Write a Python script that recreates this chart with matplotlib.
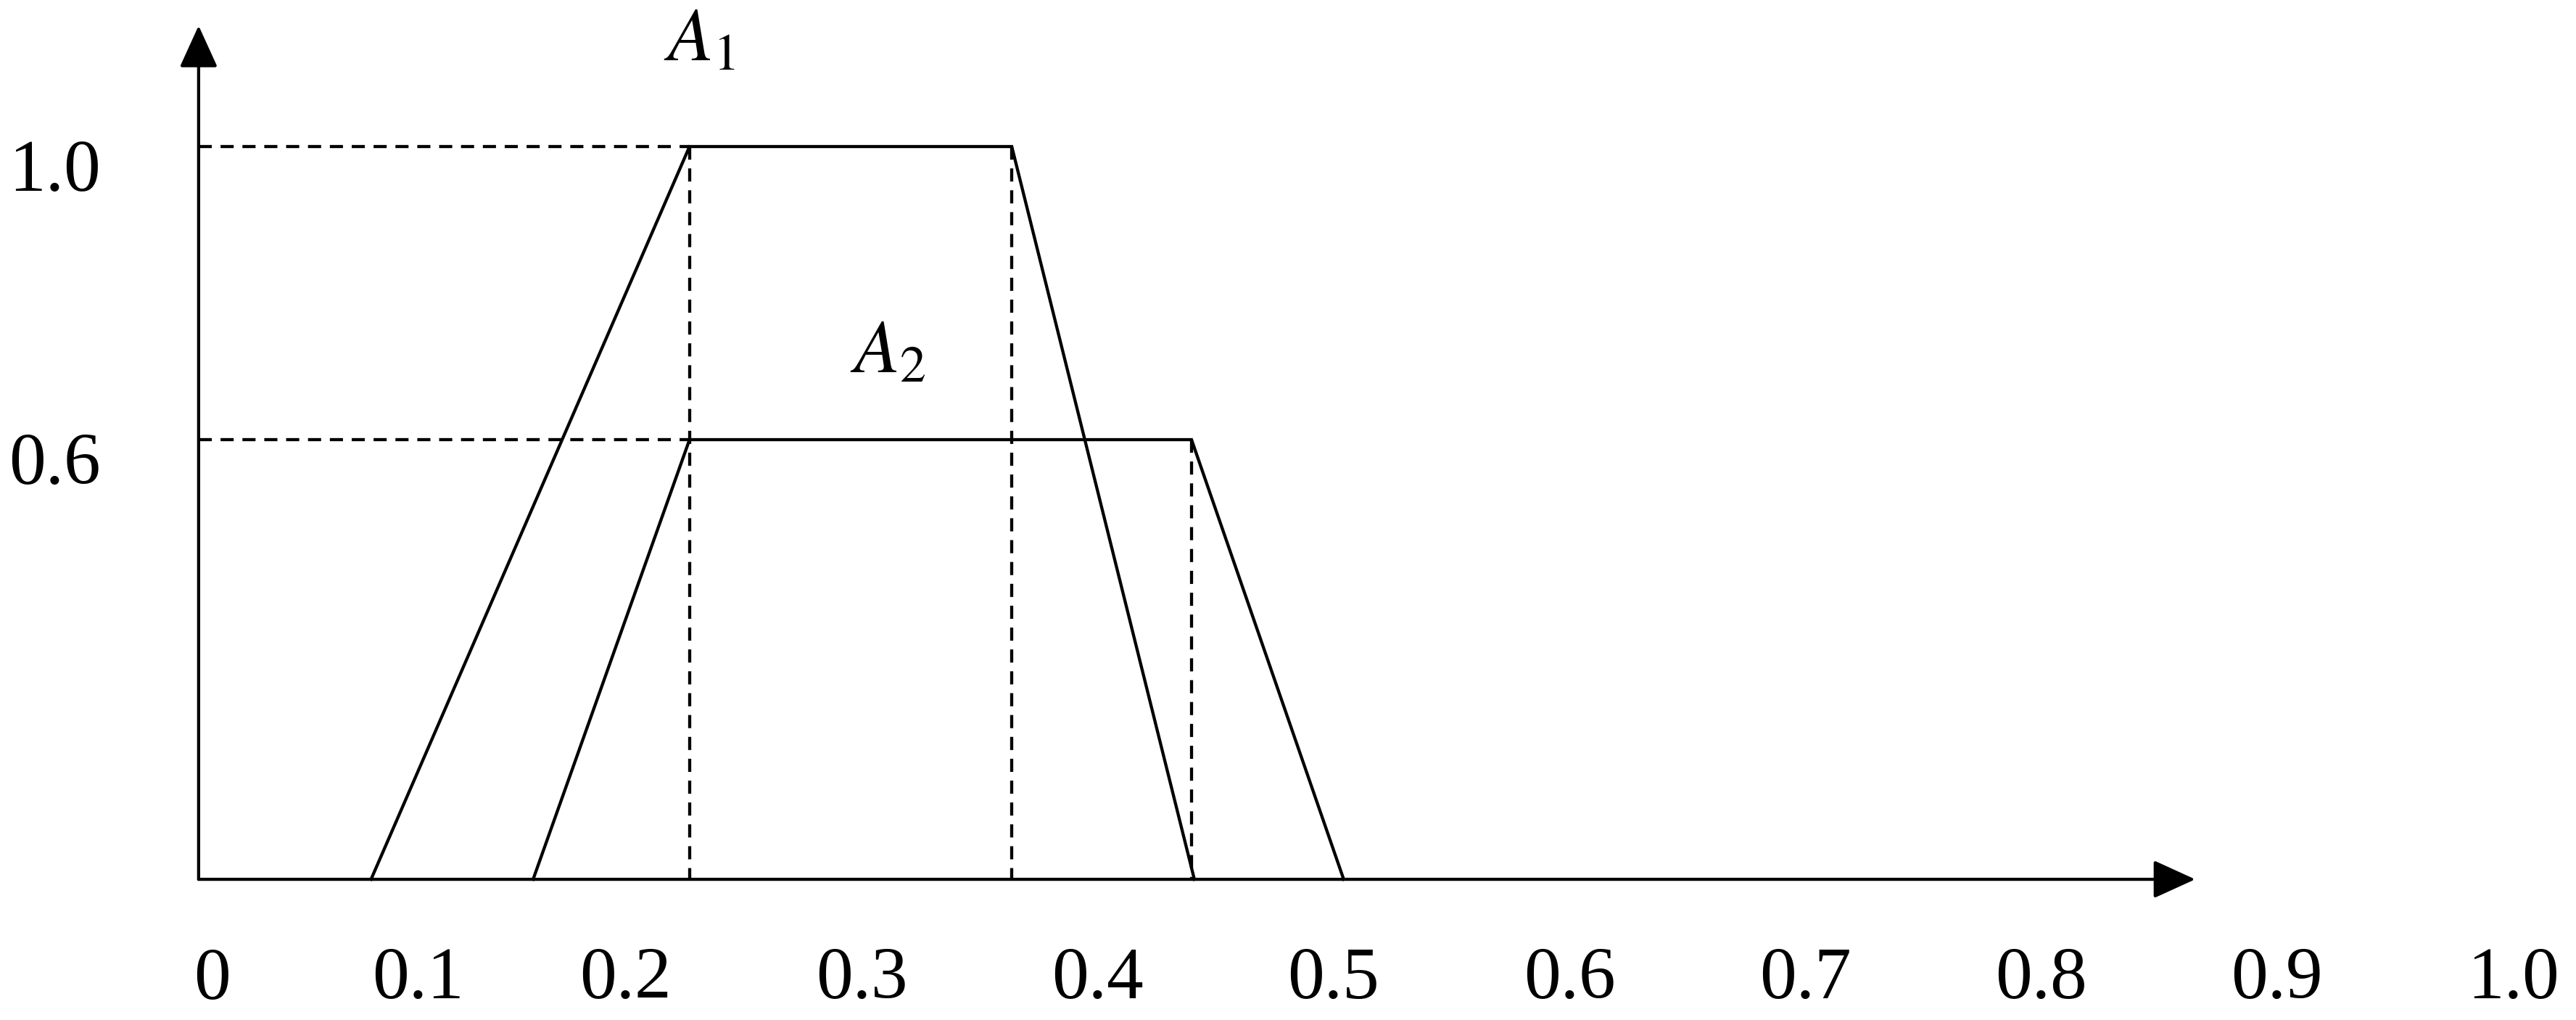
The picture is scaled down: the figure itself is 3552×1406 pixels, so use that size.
import matplotlib
matplotlib.use("Agg")
import matplotlib.pyplot as plt
import matplotlib.transforms as mtransforms

plt.rcParams['font.family'] = ['Liberation Serif', 'DejaVu Serif']
plt.rcParams['mathtext.fontset'] = 'stix'

# membership function corners (x) and their grades (y)
a1_x = [0.092, 0.227, 0.3636, 0.441]
a1_y = [0, 1.0, 1.0, 0]
a2_x = [0.1607, 0.227, 0.4398, 0.5043]
a2_y = [0, 0.6, 0.6, 0]

levels = [1.0, 0.6]
level_text = ['1.0', '0.6']
xtick_text = ['0', '0.1', '0.2', '0.3', '0.4', '0.5', '0.6', '0.7', '0.8', '0.9', '1.0']
# where the bottom labels stand in the picture (not evenly spaced near 0)
xtick_pos = [0.0245, 0.112, 0.2, 0.3, 0.4, 0.5, 0.6, 0.7, 0.8, 0.9, 1.0]

axis_x0 = 0.0189
x_tip = 0.8653
y_tip = 1.165

fig = plt.figure(figsize=(35.52, 14.06), dpi=100)
ax = fig.add_axes([0, 0, 1, 1])
ax.set_xlim(-0.0653, 1.0267)
ax.set_ylim(-0.192, 1.2)
ax.axis('off')

lw = 3.1
dash = (4.2, 2.8)

# axes with arrow heads
arrow = dict(arrowstyle='-|>,head_length=0.9,head_width=0.41', lw=lw, color='black',
             shrinkA=0, shrinkB=0, mutation_scale=40)
ax.annotate('', xy=(x_tip, 0), xytext=(axis_x0, 0), arrowprops=arrow)
ax.annotate('', xy=(axis_x0, y_tip), xytext=(axis_x0, 0), arrowprops=arrow)

# trapezoids
ax.plot(a1_x, a1_y, color='black', lw=lw, solid_joinstyle='miter')
ax.plot(a2_x, a2_y, color='black', lw=lw, solid_joinstyle='miter')

# dashed guide lines
ax.plot([axis_x0, a1_x[1]], [a1_y[1], a1_y[1]], color='black', lw=lw, dashes=dash)
ax.plot([axis_x0, a2_x[1]], [a2_y[1], a2_y[1]], color='black', lw=lw, dashes=dash)
ax.plot([a1_x[1], a1_x[1]], [a1_y[1], 0], color='black', lw=lw, dashes=dash)
ax.plot([a1_x[2], a1_x[2]], [a1_y[2], 0], color='black', lw=lw, dashes=dash)
ax.plot([a2_x[2], a2_x[2]], [a2_y[2], 0], color='black', lw=lw, dashes=dash)

# labels
below = mtransforms.offset_copy(ax.transData, fig=fig, x=0, y=-61, units='dots')
for lv, t in zip(levels, level_text):
    ax.text(-0.042, lv, t, transform=below, ha='center', va='baseline', fontsize=73)

for p, t in zip(xtick_pos, xtick_text):
    ax.text(p, -0.162, t, ha='center', va='baseline', fontsize=73)

ax.text(0.216, 1.118, r'$A_1$', ha='left', va='baseline', fontsize=74)
ax.text(0.295, 0.692, r'$A_2$', ha='left', va='baseline', fontsize=74)

fig.savefig('out.png', dpi=100)
